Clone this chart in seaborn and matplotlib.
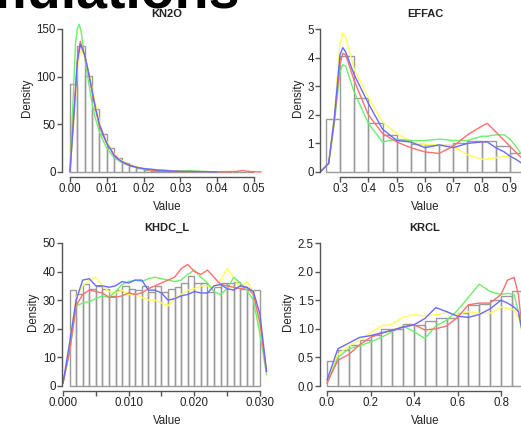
import numpy as np
import pandas as pd
import matplotlib
matplotlib.use("Agg")
import matplotlib.pyplot as plt
import seaborn as sns

sns.set_style("white")
plt.rcParams['font.family'] = ['Liberation Sans', 'DejaVu Sans']

# ---------------- data ----------------
# KN2O
kn2o_edges = [0.000, 0.002, 0.004, 0.006, 0.008, 0.010, 0.012, 0.014, 0.016, 0.018,
              0.020, 0.022, 0.024, 0.026, 0.028, 0.030, 0.032, 0.034, 0.036, 0.038,
              0.040, 0.042, 0.044, 0.046, 0.048, 0.050]
kn2o_heights = [92, 132, 101, 66, 40, 25, 15, 9, 6, 4, 2.5, 1.5, 1.0, 0.6, 0.5, 0.4,
                0.3, 0.3, 0.2, 0.2, 0.1, 0.1, 0.1, 0.1, 0.1]
kn2o_red_x = [0, 0.001, 0.002, 0.0028, 0.004, 0.005, 0.006, 0.007, 0.008, 0.009, 0.010, 0.011,
              0.012, 0.014, 0.016, 0.018, 0.020, 0.022, 0.025, 0.030, 0.040, 0.045, 0.047, 0.049, 0.052]
kn2o_red_y = [0, 60, 118, 137, 122, 105, 85, 65, 48, 38, 30, 24, 18, 11, 8, 5, 3.5, 2, 1, 0.5,
              0.3, 0.5, 1.5, 0.5, 0]
kn2o_green_x = [0, 0.001, 0.0015, 0.002, 0.0025, 0.003, 0.004, 0.005, 0.006, 0.007, 0.008, 0.009,
                0.010, 0.011, 0.012, 0.014, 0.016, 0.018, 0.020, 0.022, 0.025, 0.027, 0.030, 0.032,
                0.034, 0.038, 0.040]
kn2o_green_y = [0, 90, 135, 150, 155, 148, 120, 95, 72, 55, 42, 33, 25, 20, 15, 10, 7, 5, 3, 2,
                2.5, 1.5, 1, 1.5, 1, 0.3, 0]
kn2o_blue_x = [0, 0.001, 0.002, 0.0028, 0.004, 0.005, 0.006, 0.007, 0.008, 0.009, 0.010, 0.011,
               0.012, 0.014, 0.016, 0.018, 0.020, 0.022, 0.025, 0.030, 0.035, 0.040]
kn2o_blue_y = [0, 55, 115, 134, 123, 105, 85, 66, 50, 40, 30, 24, 17, 11, 7, 5, 3.5, 3, 1.5,
               0.7, 0.3, 0]
kn2o_yellow_x = [0, 0.001, 0.002, 0.003, 0.004, 0.005, 0.006, 0.007, 0.008, 0.009, 0.010, 0.011,
                 0.012, 0.014, 0.016, 0.018, 0.020, 0.022, 0.025, 0.030, 0.035, 0.040]
kn2o_yellow_y = [0, 50, 110, 128, 122, 106, 88, 70, 53, 40, 32, 25, 19, 12, 8, 5.5, 4, 2.5, 1.5,
                 0.7, 0.3, 0]

# EFFAC
effac_edges = [0.25, 0.30, 0.35, 0.40, 0.45, 0.50, 0.55, 0.60, 0.65, 0.70, 0.75, 0.80,
               0.85, 0.90, 0.95]
effac_heights = [1.84, 4.06, 2.58, 1.72, 1.29, 1.12, 0.97, 0.93, 0.95, 1.0, 1.07, 1.1, 0.9, 0.68]
effac_x = [0.23, 0.26, 0.28, 0.30, 0.31, 0.32, 0.35, 0.40, 0.45, 0.50, 0.55, 0.60, 0.65,
           0.70, 0.75, 0.80, 0.82, 0.85, 0.88, 0.90, 0.92, 0.95]
effac_red = [0, 0.3, 1.8, 3.8, 4.15, 4.1, 3.2, 2.0, 1.35, 1.05, 0.85, 0.7, 0.65, 0.9, 1.3,
             1.6, 1.7, 1.4, 1.1, 0.9, 0.7, 0.4]
effac_yellow = [0, 0.3, 2.0, 4.5, 4.85, 4.7, 3.6, 2.6, 1.75, 1.35, 1.05, 0.95, 0.95, 0.9, 0.6,
                0.45, 0.45, 0.5, 0.55, 0.55, 0.45, 0.25]
effac_blue = [0, 0.3, 1.9, 4.1, 4.35, 4.2, 3.4, 2.4, 1.5, 1.1, 1.05, 0.85, 0.95, 0.85, 1.0,
              1.05, 1.05, 0.85, 0.7, 0.55, 0.45, 0.25]
effac_green = [0, 0.3, 1.7, 3.5, 3.75, 3.7, 2.8, 1.7, 1.05, 1.15, 1.1, 1.1, 1.15, 1.1, 1.1,
               1.25, 1.25, 1.3, 1.3, 1.15, 0.9, 0.5]

# KHDC_L
khdc_edges = [0.001 * i for i in range(1, 31)]
khdc_heights = [33.5, 32, 35.5, 34, 35, 34, 31.5, 33.5, 35, 34, 33.5, 35, 33, 35, 33, 34,
                34.5, 36, 38.5, 36, 36, 33, 34.5, 36, 36, 36.5, 34, 33.5, 33.5]
khdc_x = [0.000, 0.001, 0.002, 0.003, 0.004, 0.005, 0.006, 0.007, 0.008, 0.009, 0.010, 0.011,
          0.012, 0.013, 0.014, 0.015, 0.016, 0.017, 0.018, 0.019, 0.020, 0.021, 0.022, 0.023,
          0.024, 0.025, 0.026, 0.027, 0.028, 0.029, 0.030, 0.031]
khdc_blue = [1, 15, 30, 37, 37.5, 35, 35, 34.5, 35, 36.5, 36, 37, 37, 33.5, 33.5, 32.5, 30, 30.5,
             31.5, 32, 33, 32.5, 32.5, 35, 35.5, 34, 33.5, 35, 34.5, 33, 25, 5]
khdc_yellow = [1, 15, 31, 35, 37, 38, 35, 33, 32.5, 33.5, 32, 32, 31, 30, 30, 29, 28, 30.5, 32,
               33.5, 34, 35, 35, 34.5, 37, 41, 38, 34, 36.5, 33, 20, 5]
khdc_red = [1, 12, 28, 32, 33.5, 33, 32.5, 31, 31, 31.5, 32.5, 32, 32.5, 34, 35, 36, 37, 38, 41,
            42.5, 40, 39, 40.5, 38, 35.5, 35, 34.5, 34, 34.5, 32, 22, 5]
khdc_green = [1, 12, 28, 29, 29.5, 30.5, 31.5, 31, 33, 35.5, 36.5, 37, 36.5, 37.5, 38, 37.5, 37,
              36.5, 37, 39, 40.5, 38, 36, 33, 32, 34, 38, 36, 33.5, 30, 18, 4]

# KRCL
krcl_edges = [0.05 * i for i in range(19)]
krcl_heights = [0.43, 0.63, 0.72, 0.80, 0.90, 1.0, 1.0, 1.09, 1.06, 1.13, 1.19, 1.19, 1.28,
                1.41, 1.44, 1.51, 1.58, 1.66]
krcl_x = [0.0, 0.05, 0.10, 0.15, 0.20, 0.25, 0.30, 0.35, 0.40, 0.45, 0.50, 0.55, 0.60, 0.65,
          0.70, 0.75, 0.80, 0.83, 0.86, 0.88, 0.90, 0.93]
krcl_red = [0.05, 0.45, 0.55, 0.72, 0.85, 0.92, 0.98, 1.03, 1.07, 0.98, 1.0, 1.05, 1.2, 1.42,
            1.45, 1.45, 1.6, 1.85, 1.9, 1.6, 0.9, 0.4]
krcl_green = [0.05, 0.5, 0.65, 0.7, 0.77, 0.85, 0.95, 1.05, 0.95, 0.83, 1.05, 1.15, 1.32, 1.55,
              1.78, 1.65, 1.6, 1.62, 1.6, 1.3, 0.9, 0.4]
krcl_blue = [0.1, 0.65, 0.75, 0.85, 0.88, 0.93, 0.97, 1.03, 1.07, 1.18, 1.37, 1.3, 1.22, 1.2,
             1.25, 1.35, 1.5, 1.45, 1.38, 1.3, 0.9, 0.4]
krcl_yellow = [0.08, 0.55, 0.7, 0.8, 0.93, 1.05, 1.08, 1.2, 1.25, 1.22, 1.25, 1.28, 1.25, 1.3,
               1.27, 1.27, 1.38, 1.36, 1.33, 1.2, 0.9, 0.4]

titles = ["KN2O", "EFFAC", "KHDC_L", "KRCL"]
chain_colors = {"red": "#ff6f6f", "green": "#6cf06c", "blue": "#6a6aff", "yellow": "#ffff55"}

# ---------------- layout ----------------
W, H = 521, 428
fig = plt.figure(figsize=(W / 100, H / 100), dpi=100)

def rect(l, r, t, b):
    return [l / W, 1 - b / H, (r - l) / W, (b - t) / H]

panels = [
    dict(rect=rect(62, 272, 18.6, 177), xlim=(-0.00217, 0.0549), ylim=(-5.245, 160.9),
         xt=[0, 0.01, 0.02, 0.03, 0.04, 0.05], xl=["0.00", "0.01", "0.02", "0.03", "0.04", "0.05"],
         yt=[0, 50, 100, 150], yl=["0", "50", "100", "150"],
         edges=kn2o_edges, heights=kn2o_heights,
         curves=[("green", kn2o_green_x, kn2o_green_y), ("yellow", kn2o_yellow_x, kn2o_yellow_y),
                 ("red", kn2o_red_x, kn2o_red_y), ("blue", kn2o_blue_x, kn2o_blue_y)]),
    dict(rect=rect(320, 530, 18.6, 177), xlim=(0.2294, 0.9706), ylim=(-0.175, 5.364),
         xt=[0.3, 0.4, 0.5, 0.6, 0.7, 0.8, 0.9], xl=["0.3", "0.4", "0.5", "0.6", "0.7", "0.8", "0.9"],
         yt=[0, 1, 2, 3, 4, 5], yl=["0", "1", "2", "3", "4", "5"],
         edges=effac_edges, heights=effac_heights,
         curves=[("yellow", effac_x, effac_yellow), ("green", effac_x, effac_green),
                 ("red", effac_x, effac_red), ("blue", effac_x, effac_blue)]),
    dict(rect=rect(62, 272, 232.6, 391), xlim=(-0.000152, 0.03183), ylim=(-1.748, 53.6),
         xt=[0, 0.005, 0.010, 0.015, 0.020, 0.025, 0.030],
         xl=["0.000", "", "0.010", "", "0.020", "", "0.030"],
         yt=[0, 10, 20, 30, 40, 50], yl=["0", "10", "20", "30", "40", "50"],
         edges=khdc_edges, heights=khdc_heights,
         curves=[("yellow", khdc_x, khdc_yellow), ("green", khdc_x, khdc_green),
                 ("red", khdc_x, khdc_red), ("blue", khdc_x, khdc_blue)]),
    dict(rect=rect(320, 530, 232.6, 391), xlim=(-0.0322, 0.9333), ylim=(-0.0874, 2.682),
         xt=[0.0, 0.2, 0.4, 0.6, 0.8], xl=["0.0", "0.2", "0.4", "0.6", "0.8"],
         yt=[0, 0.5, 1.0, 1.5, 2.0, 2.5], yl=["0.0", "0.5", "1.0", "1.5", "2.0", "2.5"],
         edges=krcl_edges, heights=krcl_heights,
         curves=[("yellow", krcl_x, krcl_yellow), ("green", krcl_x, krcl_green),
                 ("red", krcl_x, krcl_red), ("blue", krcl_x, krcl_blue)]),
]

axis_col = "#555555"
for title, p in zip(titles, panels):
    ax = fig.add_axes(p["rect"])
    ax.set_facecolor("none")
    edges = p["edges"]
    centers = [(a + b) / 2 for a, b in zip(edges[:-1], edges[1:])]
    sns.histplot(x=centers, weights=p["heights"], bins=edges, stat="count", fill=False,
                 element="bars", color="#9a9a9a", linewidth=1.0, ax=ax)
    for name, xs, ys in p["curves"]:
        df = pd.DataFrame({"x": xs, "y": ys})
        sns.lineplot(data=df, x="x", y="y", color=chain_colors[name], linewidth=1.0,
                     ax=ax, sort=False, estimator=None)
    ax.set_xlim(*p["xlim"])
    ax.set_ylim(*p["ylim"])
    ax.set_xticks(p["xt"])
    ax.set_xticklabels(p["xl"])
    ax.set_yticks(p["yt"])
    ax.set_yticklabels(p["yl"])
    for s in ["top", "right"]:
        ax.spines[s].set_visible(False)
    ax.spines["left"].set_bounds(p["yt"][0], p["yt"][-1])
    ax.spines["bottom"].set_bounds(p["xt"][0], p["xt"][-1])
    for s in ["left", "bottom"]:
        ax.spines[s].set_color(axis_col)
        ax.spines[s].set_linewidth(1.0)
    ax.tick_params(axis="both", direction="out", length=3.5, width=1.0, color=axis_col,
                   labelsize=8.3, labelcolor="#222222", pad=1.0,
                   bottom=True, left=True)
    ax.set_xlabel("Value", fontsize=8.3, color="#222222", labelpad=4.5)
    ax.set_ylabel("Density", fontsize=8.3, color="#222222", labelpad=2.5)
    ax.set_title(title, fontsize=8, fontweight="bold", color="#222222", pad=1.5)

fig.text(240 / W, 1 - 8 / H, "Simulations", ha="right", va="baseline",
         fontsize=40, fontweight="bold", color="black")

fig.savefig("out.png", dpi=100)
